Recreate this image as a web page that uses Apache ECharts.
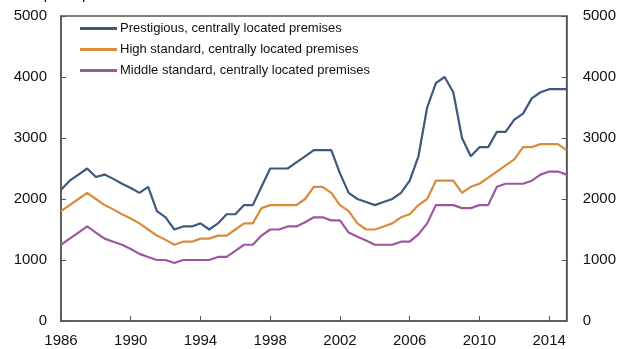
<!DOCTYPE html>
<html><head><meta charset="utf-8">
<script src="https://cdn.jsdelivr.net/npm/echarts@6/dist/echarts.min.js"></script>
<style>html,body{margin:0;padding:0;background:#fff}#c{width:619px;height:349px}</style>
</head><body><div id="c"></div>
<script>
const periods = [1986,1986.5,1987,1987.5,1988,1988.5,1989,1989.5,1990,1990.5,
1991,1991.5,1992,1992.5,1993,1993.5,1994,1994.5,1995,1995.5,
1996,1996.5,1997,1997.5,1998,1998.5,1999,1999.5,2000,2000.5,
2001,2001.5,2002,2002.5,2003,2003.5,2004,2004.5,2005,2005.5,
2006,2006.5,2007,2007.5,2008,2008.5,2009,2009.5,2010,2010.5,
2011,2011.5,2012,2012.5,2013,2013.5,2014,2014.5,2015];
const seriesNames = ['Prestigious, centrally located premises','High standard, centrally located premises','Middle standard, centrally located premises'];
const prestigious = [2150,2300,2400,2500,2360,2400,2330,2250,2180,2100,
2200,1800,1700,1500,1550,1550,1600,1500,1600,1750,
1750,1900,1900,2200,2500,2500,2500,2600,2700,2800,
2800,2800,2420,2100,2000,1950,1900,1950,2000,2100,
2300,2700,3500,3900,4000,3750,3000,2700,2850,2850,
3100,3100,3300,3400,3650,3750,3800,3800,3800];
const highStandard = [1800,1900,2000,2100,2000,1900,1830,1750,1680,1600,
1500,1400,1330,1250,1300,1300,1350,1350,1400,1400,
1500,1600,1600,1850,1900,1900,1900,1900,2000,2200,
2200,2100,1900,1800,1600,1500,1500,1550,1600,1700,
1750,1900,2000,2300,2300,2300,2100,2200,2250,2350,
2450,2550,2650,2850,2850,2900,2900,2900,2800];
const middleStandard = [1250,1350,1450,1550,1450,1350,1300,1250,1180,1100,
1050,1000,1000,950,1000,1000,1000,1000,1050,1050,
1150,1250,1250,1400,1500,1500,1550,1550,1620,1700,
1700,1650,1650,1450,1380,1320,1250,1250,1250,1300,
1300,1420,1600,1900,1900,1900,1850,1850,1900,1900,
2200,2250,2250,2250,2300,2400,2450,2450,2400];
const yTicks = [0,1000,2000,3000,4000,5000];
const xTicks = [1986,1990,1994,1998,2002,2006,2010,2014];
const unitTitle = 'NOK per square metre';

const colors = ['#3d5a7e','#d98b3b','#9b58a0'];
const pair = vals => periods.map((p,i)=>[p, vals[i]]);
const font = '"Liberation Sans", Arial, Helvetica, sans-serif';
const axisLineStyle = {color:'#555', width:1.5};
function yAxis(pos){
  return {type:'value', position:pos, min:0, max:5000, interval:1000,
    axisLine:{show:true, lineStyle:axisLineStyle},
    axisTick:{show:true, inside:true, length:5, lineStyle:{color:'#555'}},
    splitLine:{show:false},
    axisLabel:{color:'#111', fontSize:15, fontFamily:font, margin:pos==='left'?14:16,
      formatter:v=>yTicks.includes(v)?String(v):''}};
}
const chart = echarts.init(document.getElementById('c'), null, {renderer:'canvas'});
chart.setOption({
  animation:false,
  color:colors,
  title:{text:unitTitle, left:2, top:-18, textStyle:{fontSize:15, fontWeight:'normal', color:'#111', fontFamily:font}},
  grid:{left:61, right:52, top:16, bottom:28, show:true, borderColor:'#555', borderWidth:1.5},
  legend:{orient:'vertical', left:75, top:17, itemWidth:37, itemHeight:3, itemGap:8,
    icon:'rect',
    textStyle:{fontSize:13, color:'#111', fontFamily:font, padding:[0,0,0,-2]},
    data:seriesNames},
  xAxis:{type:'value', min:1986, max:2015, interval:4,
    axisLine:{show:true, lineStyle:axisLineStyle},
    axisTick:{show:true, inside:true, length:5, lineStyle:{color:'#555'}},
    splitLine:{show:false},
    axisLabel:{color:'#111', fontSize:15, fontFamily:font, margin:12,
      formatter:v=>xTicks.includes(v)?String(v):'', showMaxLabel:false}},
  yAxis:[yAxis('left'), yAxis('right')],
  series:[
    {name:seriesNames[0], type:'line', data:pair(prestigious), showSymbol:false, lineStyle:{width:2.2}},
    {name:seriesNames[1], type:'line', data:pair(highStandard), showSymbol:false, lineStyle:{width:2.2}},
    {name:seriesNames[2], type:'line', data:pair(middleStandard), showSymbol:false, lineStyle:{width:2.2}}
  ]
});
</script></body></html>
